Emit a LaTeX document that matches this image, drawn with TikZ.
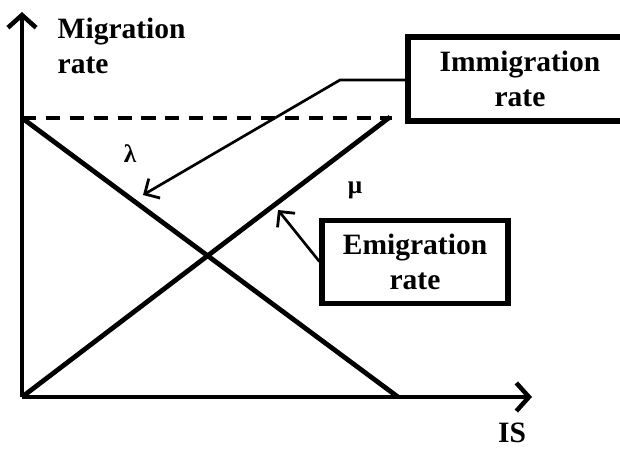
\documentclass[tikz,border=0pt]{standalone}
\usepackage{fontspec}
\setmainfont{Liberation Serif}
\usetikzlibrary{arrows.meta}

\begin{document}
\begin{tikzpicture}
	\tikzset{
		axis/.style={line width=3.4pt, -{Straight Barb[length=9pt, width=20pt, line width=3.2pt]}},
		rateline/.style={line width=3.4pt},
		conn/.style={line width=1.9pt, -{Straight Barb[length=8pt, width=16pt, line width=2pt]}},
		ratebox/.style={draw, line width=3.6pt, align=center, font=\bfseries\fontsize{21}{25}\selectfont},
		lbl/.style={align=left, inner sep=1pt, font=\bfseries\fontsize{21}{25}\selectfont}
	}
	\clip (0,0) rectangle (15.5,11.25);
	\coordinate (o) at (0.55, 1.325);
	\coordinate (ytip) at (0.55, 10.95);
	\coordinate (xtip) at (13.3, 1.325);
	\coordinate (top) at (0.55, 8.3);
	\coordinate (dashend) at (9.8, 8.3);
	\coordinate (lamend) at (9.95, 1.325);
	\coordinate (muend) at (9.75, 8.325);
	\coordinate (bend) at (8.5, 9.25);
	\coordinate (lamtip) at (3.575, 6.375);
	\coordinate (mutip) at (6.95, 6.0);

	\node[lbl, anchor=north west] (ylab) at (1.4, 10.85) {Migration\\rate};
	\node[lbl] (xlab) at (12.8, 0.42) {IS};
	\node[lbl, font=\bfseries\fontsize{18}{21}\selectfont] (lam) at (3.25, 7.4) {λ};
	\node[lbl, font=\bfseries\fontsize{18}{21}\selectfont] (mu) at (8.875, 6.5) {μ};
	\node[ratebox, minimum width=5.6cm, minimum height=2.1cm] (imm) at (13.0, 9.275) {Immigration\\rate};
	\node[ratebox, minimum width=4.65cm, minimum height=2.075cm] (emi) at (10.375, 4.71) {Emigration\\rate};

	\draw[axis] (o) -- (ytip);
	\draw[axis] (o) -- (xtip);
	\draw[line width=2.8pt, dash pattern=on 10pt off 7pt] (top) -- (dashend);
	\draw[rateline] (top) -- (lamend);
	\draw[rateline] (o) -- (muend);
	\draw[conn] (imm.west |- bend) -- (bend) -- (lamtip);
	\draw[conn] (emi.west) -- (mutip);
\end{tikzpicture}
\end{document}
